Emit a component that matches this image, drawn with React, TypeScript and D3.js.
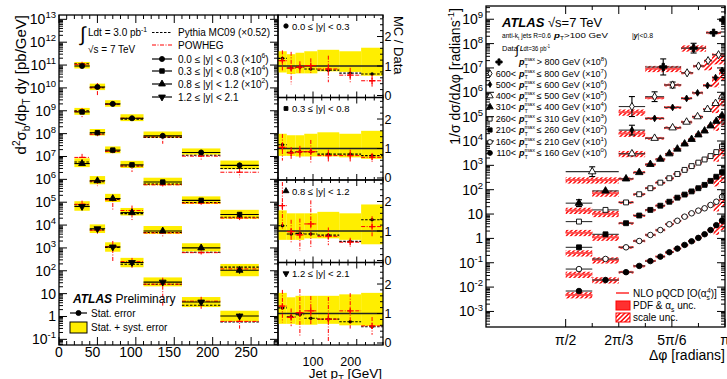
import React from 'react';
import * as d3 from 'd3';

const FONT = "'Liberation Sans', Arial, Helvetica, sans-serif";
const W = 727, H = 379;

// ================= LEFT: b-jet cross section =================
const ptEdges = [20, 40, 60, 80, 110, 160, 210, 260];
const rapLabels = ['0.0 ≤ |y| < 0.3', '0.3 ≤ |y| < 0.8', '0.8 ≤ |y| < 1.2', '1.2 ≤ |y| < 2.1'];
const rapScaleExp = [6, 4, 2, 0];
const xsecY0 = [9.1e4, 1.1e4, 2.0e3, 470, 80, 15, 4.1];
const xsecY1 = [8.9e4, 1.1e4, 1.9e3, 430, 76, 12, 2.9];
const xsecY2 = [4.9e4, 8.7e3, 1.45e3, 350, 55, 10, 1.05];
const xsecY3 = [6.5e4, 6.9e3, 1.1e3, 230, 32, 4.3, 1.05];
const sysUpY0 = [0.5, 0.4, 0.45, 0.5, 0.55, 0.5, 0.62];
const sysDnY0 = [0.22, 0.27, 0.25, 0.25, 0.18, 0.2, 0.33];
const sysUpY1 = [0.5, 0.45, 0.45, 0.5, 0.55, 0.5, 0.6];
const sysDnY1 = [0.25, 0.25, 0.27, 0.27, 0.27, 0.3, 0.35];
const sysUpY2 = [0.7, 0.6, 0.6, 0.6, 0.65, 0.6, 0.9];
const sysDnY2 = [0.3, 0.3, 0.3, 0.25, 0.25, 0.3, 0.45];
const sysUpY3 = [0.7, 0.55, 0.6, 0.6, 0.6, 0.65, 0.7];
const sysDnY3 = [0.35, 0.35, 0.38, 0.38, 0.35, 0.4, 0.42];
const pythiaY0 = [1.26, 0.93, 0.96, 0.9, 0.86, 0.76, 0.73];
const powhegY0 = [1.18, 0.93, 0.96, 1.01, 0.9, 0.69, 0.5];
const powErrY0 = [0.35, 0.55, 0.2, 0.25, 0.45, 0.25, 0.2];
const pythiaY1 = [1.13, 0.87, 0.89, 0.89, 0.81, 0.81, 0.76];
const powhegY1 = [1.04, 0.85, 0.89, 0.89, 0.76, 0.76, 0.7];
const powErrY1 = [0.45, 0.2, 0.2, 0.4, 0.2, 0.2, 0.15];
const pythiaY2 = [1.18, 0.9, 0.92, 0.9, 0.86, 0.65, 1.38];
const powhegY2 = [1.86, 0.98, 0.87, 1.24, 0.82, 0.62, 1.15];
const powErrY2 = [0.8, 0.4, 0.55, 0.8, 0.3, 0.15, 0.35];
const pythiaY3 = [1.19, 0.89, 0.96, 0.84, 0.81, 0.72, 0.55];
const powhegY3 = [1.25, 0.87, 1.03, 1.09, 0.81, 1.09, 0.58];
const powErrY3 = [0.55, 0.3, 0.8, 0.5, 0.75, 0.6, 0.3];
const statErr = [0.04, 0.05, 0.06, 0.08, 0.12, 0.2, 0.3];

const rapTable = [
  { v: xsecY0, up: sysUpY0, dn: sysDnY0, py: pythiaY0, pw: powhegY0, pe: powErrY0, m: 'circle' },
  { v: xsecY1, up: sysUpY1, dn: sysDnY1, py: pythiaY1, pw: powhegY1, pe: powErrY1, m: 'square' },
  { v: xsecY2, up: sysUpY2, dn: sysDnY2, py: pythiaY2, pw: powhegY2, pe: powErrY2, m: 'triangle' },
  { v: xsecY3, up: sysUpY3, dn: sysDnY3, py: pythiaY3, pw: powhegY3, pe: powErrY3, m: 'tridown' },
];

// ================= RIGHT: dijet azimuthal decorrelation =================
const lowEdges = [1.571, 1.833, 2.094, 2.238, 2.354, 2.457, 2.551, 2.635, 2.709, 2.778, 2.847, 2.911, 2.97, 3.029, 3.083, 3.142];
const s1Edges = [2.356, 2.709, 2.955, 3.103, 3.142];
const s2Edges = [2.094, 2.354, 2.541, 2.709, 2.827, 2.935, 3.014, 3.142];
const s3Edges = [2.094, 2.354, 2.541, 2.709, 2.817, 2.925, 3.014, 3.083, 3.142];
const s4Edges = [1.571, 2.094, 2.354, 2.541, 2.709, 2.817, 2.925, 3.014, 3.083, 3.142];
const s1Vals = [0.11, 0.65, 2.8, 9.3];
const s2Vals = [0.026, 0.066, 0.2, 0.63, 1.2, 2.0, 3.5];
const s3Vals = [0.028, 0.085, 0.24, 0.56, 0.95, 1.9, 4.0, 7.9];
const s4Vals = [0.0055, 0.03, 0.13, 0.35, 0.6, 1.0, 2.0, 3.5, 6.6];
const s5Vals = [0.0028, 0.0089, 0.028, 0.051, 0.11, 0.18, 0.3, 0.47, 0.76, 1.17, 1.8, 2.6, 4.2, 6.5, 11];
const s6Vals = [0.0049, 0.0148, 0.03, 0.065, 0.115, 0.195, 0.295, 0.44, 0.65, 0.93, 1.29, 1.74, 2.4, 3.5, 5.9];
const s7Vals = [0.0043, 0.0147, 0.042, 0.087, 0.148, 0.22, 0.32, 0.47, 0.63, 0.85, 1.15, 1.58, 2.3, 3.4, 5.2];
const s8Vals = [0.0055, 0.0143, 0.043, 0.078, 0.138, 0.22, 0.38, 0.53, 0.78, 1.07, 1.38, 1.72, 2.35, 3.2, 5.1];
const s9Vals = [0.0069, 0.0195, 0.041, 0.074, 0.117, 0.178, 0.27, 0.38, 0.54, 0.76, 1.05, 1.48, 2.2, 3.5, 5.4];
// total error on data, in decades (leading bins; remaining bins ~0.03)
const s1Err = [0.33, 0.2, 0.08, 0.05];
const s2Err = [0.41, 0.2, 0.12, 0.06];
const s3Err = [0.2, 0.08];
const s4Err = [0.2, 0.06];
const s5Err = [0.14, 0.05];
const s6Err = [0.06, 0.04];
const s7Err = [0.06, 0.04];
const s8Err = [0.05, 0.04];
const s9Err = [0.05, 0.04];
// NLO / data in the leading bins (remaining bins: NLO on the data)
const s1Nlo = [0.85];
const s2Nlo = [0.58, 0.9];
const s3Nlo = [0.73];
const s4Nlo = [0.45, 1];
const s5Nlo = [0.5, 0.8];
const s6Nlo = [0.35, 0.7];
const s7Nlo = [0.58, 0.75];
const s8Nlo = [0.6, 0.9];
const s9Nlo = [0.69, 1];
const ptMaxLo = [800, 600, 500, 400, 310, 260, 210, 160, 110];
const ptMaxHi = [0, 800, 600, 500, 400, 310, 260, 210, 160];
const scaleExp = [8, 7, 6, 5, 4, 3, 2, 1, 0];
const dMarkers = ['cross', 'odiamond', 'sdiamond', 'otriangle', 'triangle', 'osquare', 'square', 'ocircle', 'circle'];

const dTable = [
  { e: s1Edges, v: s1Vals, err: s1Err, nlo: s1Nlo },
  { e: s2Edges, v: s2Vals, err: s2Err, nlo: s2Nlo },
  { e: s3Edges, v: s3Vals, err: s3Err, nlo: s3Nlo },
  { e: s4Edges, v: s4Vals, err: s4Err, nlo: s4Nlo },
  { e: lowEdges, v: s5Vals, err: s5Err, nlo: s5Nlo },
  { e: lowEdges, v: s6Vals, err: s6Err, nlo: s6Nlo },
  { e: lowEdges, v: s7Vals, err: s7Err, nlo: s7Nlo },
  { e: lowEdges, v: s8Vals, err: s8Err, nlo: s8Nlo },
  { e: lowEdges, v: s9Vals, err: s9Err, nlo: s9Nlo },
];

// ================= helpers =================
type Seg = { t: string; s?: 'sup' | 'sub'; it?: boolean; b?: boolean; fs?: number; dx?: number };
function Rich(props: { x: number; y: number; size: number; segs: Seg[]; anchor?: string; transform?: string; fill?: string; len?: number }) {
  const { x, y, size, segs, anchor = 'start', transform, fill = '#000', len } = props;
  let cur = 0;
  return (
    <text x={x} y={y} fontSize={size} textAnchor={anchor} transform={transform} fill={fill} fontFamily={FONT}
      style={{ whiteSpace: 'pre' }} textLength={len} lengthAdjust={len ? 'spacingAndGlyphs' : undefined}>
      {segs.map((g, i) => {
        const target = g.s === 'sup' ? -size * 0.42 : g.s === 'sub' ? size * 0.28 : 0;
        const dy = target - cur;
        cur = target;
        const fs = g.fs ?? (g.s ? size * 0.68 : size);
        return (
          <tspan key={i} dy={dy} dx={g.dx} fontSize={fs} fontStyle={g.it ? 'italic' : undefined} fontWeight={g.b ? 'bold' : undefined}>
            {g.t}
          </tspan>
        );
      })}
    </text>
  );
}

const symMap: Record<string, any> = {
  circle: d3.symbolCircle, square: d3.symbolSquare, triangle: d3.symbolTriangle, diamond: d3.symbolDiamond, cross: d3.symbolCross,
};
function Marker({ x, y, kind, size = 26 }: { x: number; y: number; kind: string; size?: number }) {
  let type = kind, fill = '#000', rot = 0, sz = size;
  if (kind.startsWith('o')) { type = kind.slice(1); fill = '#fff'; }
  if (kind === 'tridown') { type = 'triangle'; rot = 180; }
  if (kind === 'sdiamond') { type = 'diamond'; sz = size * 0.55; }
  if (kind === 'odiamond') { type = 'diamond'; sz = size * 0.8; }
  if (kind === 'cross') { sz = size * 1.2; }
  const d = d3.symbol().type(symMap[type]).size(sz)()!;
  return <path d={d} transform={`translate(${x},${y}) rotate(${rot})`} fill={fill} stroke="#000" strokeWidth={0.9} />;
}

function logTicks(lo: number, hi: number) {
  const majors: number[] = [];
  const minors: number[] = [];
  for (let k = Math.floor(Math.log10(lo)); k <= Math.ceil(Math.log10(hi)); k++) {
    const b = Math.pow(10, k);
    if (b >= lo && b <= hi) majors.push(k);
    for (let m = 2; m <= 9; m++) { const v = m * b; if (v >= lo && v <= hi) minors.push(v); }
  }
  return { majors, minors };
}

function powLabel(k: number): Seg[] {
  if (k === 0) return [{ t: '1' }];
  if (k === 1) return [{ t: '10' }];
  return [{ t: '10' }, { t: String(k), s: 'sup' }];
}

// ================= scales =================
const L = { x0: 59, x1: 278, y0: 15, y1: 345 };
const xL = d3.scaleLinear().domain([0, 285]).range([L.x0, L.x1]);
const yL = d3.scaleLog().domain([Math.pow(10, -1.247), Math.pow(10, 13.19)]).range([L.y1, L.y0]);
const R = { x0: 278, x1: 383 };
const xR = d3.scaleLinear().domain([20, 260]).range([R.x0, R.x1]);
const ratioTops = [15, 97.5, 180, 262.5];
const ratioH = 82.5;

const P = { x0: 486, x1: 725, y0: 6, y1: 327 };
const xP = d3.scaleLinear().domain([Math.PI / 4, Math.PI]).range([P.x0, P.x1]);
const yP = d3.scaleLog().domain([Math.pow(10, -3.639), Math.pow(10, 9.544)]).range([P.y1, P.y0]);

const RED = '#ff0000';
const YEL = '#ffee00';
const DASHDOT = '4,1.5,1,1.5';

function LeftPanel() {
  const els: React.ReactNode[] = [];
  rapTable.forEach((r, ri) => {
    const mult = Math.pow(10, rapScaleExp[ri]);
    r.v.forEach((val, i) => {
      const lo = ptEdges[i], hi = ptEdges[i + 1];
      const v = val * mult;
      const xa = xL(lo), xb = xL(hi);
      const yTop = yL(v * (1 + r.up[i])), yBot = yL(v * (1 - r.dn[i]));
      els.push(<rect key={`y${ri}${i}`} x={xa} y={yTop} width={xb - xa} height={yBot - yTop} fill={YEL} />);
    });
  });
  rapTable.forEach((r, ri) => {
    const mult = Math.pow(10, rapScaleExp[ri]);
    r.v.forEach((val, i) => {
      const lo = ptEdges[i], hi = ptEdges[i + 1], c = (lo + hi) / 2;
      const v = val * mult;
      const xa = xL(lo), xb = xL(hi), xc = xL(c);
      const yp = yL(v * r.py[i]);
      const yw = yL(v * r.pw[i]);
      const ywHi = yL(v * (r.pw[i] + r.pe[i]));
      const ywLo = yL(v * Math.max(r.pw[i] - r.pe[i], 0.08));
      const yd = yL(v);
      els.push(
        <g key={`d${ri}${i}`}>
          <line x1={xa} x2={xb} y1={yp} y2={yp} stroke="#000" strokeWidth={1.1} strokeDasharray="2.5,1.5" />
          <line x1={xa} x2={xb} y1={yw} y2={yw} stroke={RED} strokeWidth={1} strokeDasharray={DASHDOT} />
          <line x1={xc} x2={xc} y1={ywHi} y2={ywLo} stroke={RED} strokeWidth={1} strokeDasharray={DASHDOT} />
          <line x1={xc - 3} x2={xc + 3} y1={yw} y2={yw} stroke={RED} strokeWidth={1.2} />
          <line x1={xa} x2={xb} y1={yd} y2={yd} stroke="#000" strokeWidth={1.1} />
          <line x1={xc} x2={xc} y1={yL(v * (1 + statErr[i]))} y2={yL(v * (1 - statErr[i]))} stroke="#000" strokeWidth={1.1} />
          <Marker x={xc} y={yd} kind={r.m} size={20} />
        </g>
      );
    });
  });
  const { majors, minors } = logTicks(yL.domain()[0], yL.domain()[1]);
  majors.forEach((k) => {
    const y = yL(Math.pow(10, k));
    els.push(<line key={`ymj${k}`} x1={L.x0} x2={L.x0 + 8} y1={y} y2={y} stroke="#000" />);
    els.push(<line key={`ymjr${k}`} x1={L.x1} x2={L.x1 - 8} y1={y} y2={y} stroke="#000" />);
    els.push(<Rich key={`yl${k}`} x={L.x0 - 3} y={y + 5} size={14} anchor="end" segs={powLabel(k)} />);
  });
  minors.forEach((v, i) => {
    const y = yL(v);
    els.push(<line key={`ymn${i}`} x1={L.x0} x2={L.x0 + 4} y1={y} y2={y} stroke="#000" />);
    els.push(<line key={`ymnr${i}`} x1={L.x1} x2={L.x1 - 4} y1={y} y2={y} stroke="#000" />);
  });
  for (let v = 0; v <= 280; v += 10) {
    const x = xL(v);
    const len = v % 50 === 0 ? 8 : 4;
    els.push(<line key={`xt${v}`} x1={x} x2={x} y1={L.y1} y2={L.y1 - len} stroke="#000" />);
    els.push(<line key={`xtt${v}`} x1={x} x2={x} y1={L.y0} y2={L.y0 + len} stroke="#000" />);
    if (v % 50 === 0)
      els.push(<text key={`xl${v}`} x={x - (v === 0 ? 0 : 5)} y={357} fontSize={14} textAnchor="middle" fontFamily={FONT}>{v}</text>);
  }
  els.push(<rect key="frameL" x={L.x0} y={L.y0} width={L.x1 - L.x0} height={L.y1 - L.y0} fill="none" stroke="#000" strokeWidth={1.3} />);
  return <g>{els}</g>;
}

function LeftLegend() {
  const lx0 = 152, lx1 = 172, tx = 178;
  const rows = [36, 48.5, 62.5, 74.5, 87.5, 100.5];
  const scaleTxt = ['6', '4', '2', ''];
  return (
    <g>
      <text x={80} y={41} fontSize={20} fontFamily={FONT}>∫</text>
      <Rich x={88} y={36} size={10} segs={[{ t: 'Ldt = 3.0 pb' }, { t: '-1', s: 'sup' }]} />
      <Rich x={88} y={53} size={10} segs={[{ t: '√s = 7 TeV' }]} />
      <line x1={lx0} x2={lx1} y1={rows[0] - 3.5} y2={rows[0] - 3.5} stroke="#000" strokeWidth={1.2} strokeDasharray="2.5,1.5" />
      <Rich x={tx} y={rows[0]} size={10} segs={[{ t: 'Pythia MC09 (×0.52)' }]} />
      <line x1={lx0} x2={lx1} y1={rows[1] - 3.5} y2={rows[1] - 3.5} stroke={RED} strokeWidth={1.1} strokeDasharray={DASHDOT} />
      <Rich x={tx} y={rows[1]} size={10} segs={[{ t: 'POWHEG' }]} />
      {rapLabels.map((lab, i) => (
        <g key={i}>
          <line x1={lx0} x2={lx1} y1={rows[i + 2] - 3.5} y2={rows[i + 2] - 3.5} stroke="#000" strokeWidth={1.2} />
          <Marker x={(lx0 + lx1) / 2} y={rows[i + 2] - 3.5} kind={rapTable[i].m} size={20} />
          <Rich x={tx} y={rows[i + 2]} size={10}
            segs={scaleTxt[i] ? [{ t: lab + ' (×10' }, { t: scaleTxt[i], s: 'sup' }, { t: ')' }] : [{ t: lab }]} />
        </g>
      ))}
      <Rich x={73} y={303} size={12} segs={[{ t: 'ATLAS', b: true, it: true }, { t: ' Preliminary' }]} />
      <line x1={70} x2={87} y1={313} y2={313} stroke="#000" strokeWidth={1.2} />
      <Marker x={78.5} y={313} kind="circle" size={20} />
      <Rich x={91} y={316.5} size={10} segs={[{ t: 'Stat. error' }]} />
      <rect x={70} y={322} width={17} height={11} fill={YEL} stroke="#000" strokeWidth={1} />
      <Rich x={91} y={331} size={10} segs={[{ t: 'Stat. + syst. error' }]} />
      <Rich x={26} y={15} size={15} anchor="end" transform="rotate(-90 26 15)"
        segs={[{ t: 'd' }, { t: '2', s: 'sup' }, { t: 'σ' }, { t: 'b', s: 'sub' }, { t: '/dp' }, { t: 'T', s: 'sub' }, { t: ' dy [pb/GeV]' }]} />
    </g>
  );
}

function RatioPanels() {
  const els: React.ReactNode[] = [];
  rapTable.forEach((r, ri) => {
    const top = ratioTops[ri];
    const yR = d3.scaleLinear().domain([-0.068, 2.73]).range([top + ratioH, top]);
    const inner: React.ReactNode[] = [];
    r.v.forEach((_, i) => {
      const lo = ptEdges[i], hi = ptEdges[i + 1];
      const xa = xR(lo), xb = xR(hi);
      inner.push(<rect key={`b${i}`} x={xa} y={yR(1 + r.up[i])} width={xb - xa} height={yR(1 - r.dn[i]) - yR(1 + r.up[i])} fill={YEL} />);
    });
    inner.push(<line key="one" x1={R.x0} x2={R.x1} y1={yR(1)} y2={yR(1)} stroke="#222" strokeWidth={1.3} />);
    r.v.forEach((_, i) => {
      const lo = ptEdges[i], hi = ptEdges[i + 1], c = (lo + hi) / 2;
      const xa = xR(lo), xb = xR(hi), xc = xR(c);
      const yp = yR(r.py[i]), yw = yR(r.pw[i]);
      inner.push(
        <g key={`m${i}`}>
          <line x1={xa} x2={xb} y1={yp} y2={yp} stroke="#000" strokeWidth={1.1} strokeDasharray="2.5,1.5" />
          <circle cx={xc} cy={yp} r={1.7} fill="#000" />
          <line x1={xa} x2={xb} y1={yw} y2={yw} stroke={RED} strokeWidth={1} strokeDasharray={DASHDOT} />
          <line x1={xc} x2={xc} y1={yR(r.pw[i] + r.pe[i])} y2={yR(Math.max(r.pw[i] - r.pe[i], -0.1))} stroke={RED} strokeWidth={1} strokeDasharray={DASHDOT} />
          <line x1={xc - 3} x2={xc + 3} y1={yw} y2={yw} stroke={RED} strokeWidth={1.3} />
          <line x1={xc} x2={xc} y1={yw - 3} y2={yw + 3} stroke={RED} strokeWidth={1.3} />
        </g>
      );
    });
    els.push(<clipPath key={`cp${ri}`} id={`rc${ri}`}><rect x={R.x0} y={top} width={R.x1 - R.x0} height={ratioH} /></clipPath>);
    els.push(<g key={`in${ri}`} clipPath={`url(#rc${ri})`}>{inner}</g>);
    for (let j = 0; j <= 13; j++) {
      const v = j * 0.2;
      const y = yR(v);
      const major = j % 5 === 0;
      els.push(<line key={`rt${ri}-${j}`} x1={R.x1} x2={R.x1 - (major ? 6 : 3)} y1={y} y2={y} stroke="#000" />);
      if (major)
        els.push(<text key={`rl${ri}-${j}`} x={R.x1 + 1.5} y={y + 4.5} fontSize={12.5} fontFamily={FONT}>{j / 5}</text>);
    }
    for (let v = 20; v <= 260; v += 20) {
      const x = xR(v);
      const len = v % 100 === 0 ? 6 : 3;
      els.push(<line key={`rx${ri}-${v}`} x1={x} x2={x} y1={top + ratioH} y2={top + ratioH - len} stroke="#000" />);
      els.push(<line key={`rxt${ri}-${v}`} x1={x} x2={x} y1={top} y2={top + len} stroke="#000" />);
    }
    els.push(<Marker key={`lm${ri}`} x={286} y={top + 11} kind={r.m} size={15} />);
    els.push(<Rich key={`lt${ri}`} x={292} y={top + 14.5} size={9.5} segs={[{ t: rapLabels[ri] }]} />);
    els.push(<rect key={`rf${ri}`} x={R.x0} y={top} width={R.x1 - R.x0} height={ratioH} fill="none" stroke="#000" strokeWidth={1.3} />);
  });
  [100, 200].forEach((v) => {
    els.push(<text key={`rxl${v}`} x={xR(v) - (v === 200 ? 6 : 0)} y={365.5} fontSize={12.5} textAnchor="middle" fontFamily={FONT}>{v}</text>);
  });
  els.push(<Rich key="xtitle" x={382} y={377.5} size={13.5} anchor="end" segs={[{ t: 'Jet p' }, { t: 'T', s: 'sub' }, { t: ' [GeV]' }]} />);
  els.push(<text key="mcd" x={394} y={16} fontSize={13} fontFamily={FONT} transform="rotate(90 394 16)">MC / Data</text>);
  return <g>{els}</g>;
}

function RightPanel() {
  const els: React.ReactNode[] = [];
  const bands: React.ReactNode[] = [];
  const nloLines: React.ReactNode[] = [];
  const dataEls: React.ReactNode[] = [];
  dTable.forEach((s, si) => {
    const mult = Math.pow(10, scaleExp[si]);
    const n = s.v.length;
    s.v.forEach((val, i) => {
      const lo = s.e[i], hi = s.e[i + 1], c = (lo + hi) / 2;
      const v = val * mult;
      const xa = xP(lo), xb = xP(hi), xc = xP(c);
      const nr = i < s.nlo.length ? s.nlo[i] : 1;
      const t = v * nr;
      const wide = hi - lo > 0.2;
      let su = wide ? 0.3 : 0.13, sd = wide ? 0.28 : 0.13;
      if (si > 0 && i >= n - 2) { su = 0.13; sd = 0.6; }
      bands.push(<rect key={`h${si}-${i}`} x={xa} y={yP(t * (1 + su))} width={xb - xa} height={yP(t * (1 - sd)) - yP(t * (1 + su))} fill="url(#hatch)" />);
      bands.push(<rect key={`p${si}-${i}`} x={xa} y={yP(t * 1.07)} width={xb - xa} height={yP(t * 0.93) - yP(t * 1.07)} fill="#ff3030" opacity={0.85} />);
      nloLines.push(<line key={`n${si}-${i}`} x1={xa} x2={xb} y1={yP(t)} y2={yP(t)} stroke="#ff5050" strokeWidth={1.6} />);
      const e = i < s.err.length ? s.err[i] : 0.03;
      const yd = yP(v);
      const yu = yP(v * Math.pow(10, e)), ydn = yP(v * Math.pow(10, -e));
      dataEls.push(
        <g key={`d${si}-${i}`}>
          <line x1={xa} x2={xb} y1={yd} y2={yd} stroke="#333" strokeWidth={1.1} />
          <line x1={xc} x2={xc} y1={yu} y2={ydn} stroke="#000" strokeWidth={1.1} />
          {e > 0.1 && <line x1={xc - 3} x2={xc + 3} y1={yu} y2={yu} stroke="#000" strokeWidth={1.1} />}
          {e > 0.1 && <line x1={xc - 3} x2={xc + 3} y1={ydn} y2={ydn} stroke="#000" strokeWidth={1.1} />}
          <Marker x={xc} y={yd} kind={dMarkers[si]} size={24} />
        </g>
      );
    });
  });
  els.push(<clipPath key="cpP" id="pc"><rect x={P.x0} y={P.y0} width={P.x1 - P.x0} height={P.y1 - P.y0} /></clipPath>);
  els.push(<g key="plot" clipPath="url(#pc)">{bands}{nloLines}{dataEls}</g>);

  const { majors, minors } = logTicks(yP.domain()[0], yP.domain()[1]);
  majors.forEach((k) => {
    const y = yP(Math.pow(10, k));
    els.push(<line key={`pmj${k}`} x1={P.x0} x2={P.x0 + 8} y1={y} y2={y} stroke="#000" />);
    els.push(<line key={`pmjr${k}`} x1={P.x1} x2={P.x1 - 8} y1={y} y2={y} stroke="#000" />);
    els.push(<Rich key={`pl${k}`} x={P.x0 - 3} y={y + 5} size={14} anchor="end" segs={powLabel(k)} />);
  });
  minors.forEach((v, i) => {
    const y = yP(v);
    els.push(<line key={`pmn${i}`} x1={P.x0} x2={P.x0 + 4} y1={y} y2={y} stroke="#000" />);
    els.push(<line key={`pmnr${i}`} x1={P.x1} x2={P.x1 - 4} y1={y} y2={y} stroke="#000" />);
  });
  const piLabels: Record<number, string> = { 6: 'π/2', 8: '2π/3', 10: '5π/6', 12: 'π' };
  for (let k = 6; k <= 12; k++) {
    const x = xP((k * Math.PI) / 12);
    const major = k % 2 === 0;
    els.push(<line key={`px${k}`} x1={x} x2={x} y1={P.y1} y2={P.y1 - (major ? 8 : 4)} stroke="#000" />);
    els.push(<line key={`pxt${k}`} x1={x} x2={x} y1={P.y0} y2={P.y0 + (major ? 8 : 4)} stroke="#000" />);
    if (piLabels[k]) els.push(<text key={`pxl${k}`} x={x} y={345} fontSize={14} textAnchor="middle" fontFamily={FONT}>{piLabels[k]}</text>);
  }
  els.push(<rect key="frameP" x={P.x0} y={P.y0} width={P.x1 - P.x0} height={P.y1 - P.y0} fill="none" stroke="#000" strokeWidth={1.3} />);
  els.push(<Rich key="pxt" x={725} y={360} size={14} anchor="end" segs={[{ t: 'Δφ [radians]' }]} />);
  els.push(<Rich key="pyt" x={460} y={8} size={14} anchor="end" transform="rotate(-90 460 8)"
    segs={[{ t: '1/σ dσ/dΔφ [radians' }, { t: '-1', s: 'sup' }, { t: ']' }]} />);
  return <g>{els}</g>;
}

function RightLegend() {
  const rows = [65, 76.5, 87.5, 99, 110, 122, 133, 145, 156];
  return (
    <g>
      <Rich x={502} y={27} size={13} segs={[{ t: 'ATLAS', b: true, it: true }, { t: ' √s=7 TeV' }]} />
      <Rich x={502} y={38} size={7.5} len={49} segs={[{ t: 'anti-k' }, { t: 't', s: 'sub' }, { t: ' jets R=0.6' }]} />
      <Rich x={554} y={38} size={7.5} len={54} segs={[{ t: 'p', b: true, it: true }, { t: 'T', s: 'sub' }, { t: '>100 GeV' }]} />
      <Rich x={632} y={38} size={7.5} len={21} segs={[{ t: '|' }, { t: 'y', it: true, b: true }, { t: '|<0.8' }]} />
      <Rich x={502} y={51} size={7.5} segs={[{ t: 'Data' }]} />
      <text x={515.5} y={53.5} fontSize={12} fontFamily={FONT}>∫</text>
      <Rich x={520} y={51} size={7.5} len={30} segs={[{ t: 'L', it: true, b: true }, { t: 'dt=36 pb' }, { t: '-1', s: 'sup' }]} />
      {ptMaxLo.map((lo, i) => {
        const y = rows[i];
        const rest = i === 0 ? `> ${lo} GeV (×10` : `≤ ${ptMaxHi[i]} GeV (×10`;
        return (
          <g key={i}>
            <Marker x={i === 0 ? 499 : 490} y={y - 3} kind={dMarkers[i]} size={18} />
            {i > 0 && <text x={516} y={y} fontSize={9} textAnchor="end" fontFamily={FONT}>{`${lo}<`}</text>}
            <Rich x={519} y={y} size={9}
              segs={[
                { t: 'p', b: true, it: true },
                { t: 'max', s: 'sup', fs: 5.5 },
                { t: 'T', s: 'sub', fs: 5.5, dx: -10.5 },
                { t: ' ' + rest, dx: 6.5 },
                { t: String(scaleExp[i]), s: 'sup' },
                { t: ')' },
              ]} />
          </g>
        );
      })}
      <line x1={616} x2={629} y1={293} y2={293} stroke="#ff5050" strokeWidth={1.8} />
      <Rich x={633} y={297} size={10} segs={[{ t: 'NLO pQCD [O(α' }, { t: 's', s: 'sub' }, { t: '4', s: 'sup', dx: -3 }, { t: ')]' }]} />
      <rect x={616} y={301} width={14} height={9} fill="#ff3030" stroke="#ff0000" />
      <Rich x={633} y={309} size={10} segs={[{ t: 'PDF & α' }, { t: 's', s: 'sub' }, { t: ' unc.' }]} />
      <rect x={616} y={313} width={14} height={9} fill="url(#hatch)" stroke="#ff0000" />
      <Rich x={633} y={321} size={10} segs={[{ t: 'scale unc.' }]} />
    </g>
  );
}

export default function App() {
  return (
    <svg width={W} height={H} viewBox={`0 0 ${W} ${H}`} style={{ position: 'absolute', left: 0, top: 0, display: 'block' }} fontFamily={FONT}>
      <defs>
        <pattern id="hatch" patternUnits="userSpaceOnUse" width="3.2" height="3.2" patternTransform="rotate(45)">
          <rect width="3.2" height="3.2" fill="#ffffff" />
          <line x1="0.8" y1="0" x2="0.8" y2="3.2" stroke="#ff1a1a" strokeWidth="1.6" />
        </pattern>
      </defs>
      <rect x={0} y={0} width={W} height={H} fill="#fff" />
      <LeftPanel />
      <LeftLegend />
      <RatioPanels />
      <RightPanel />
      <RightLegend />
    </svg>
  );
}
